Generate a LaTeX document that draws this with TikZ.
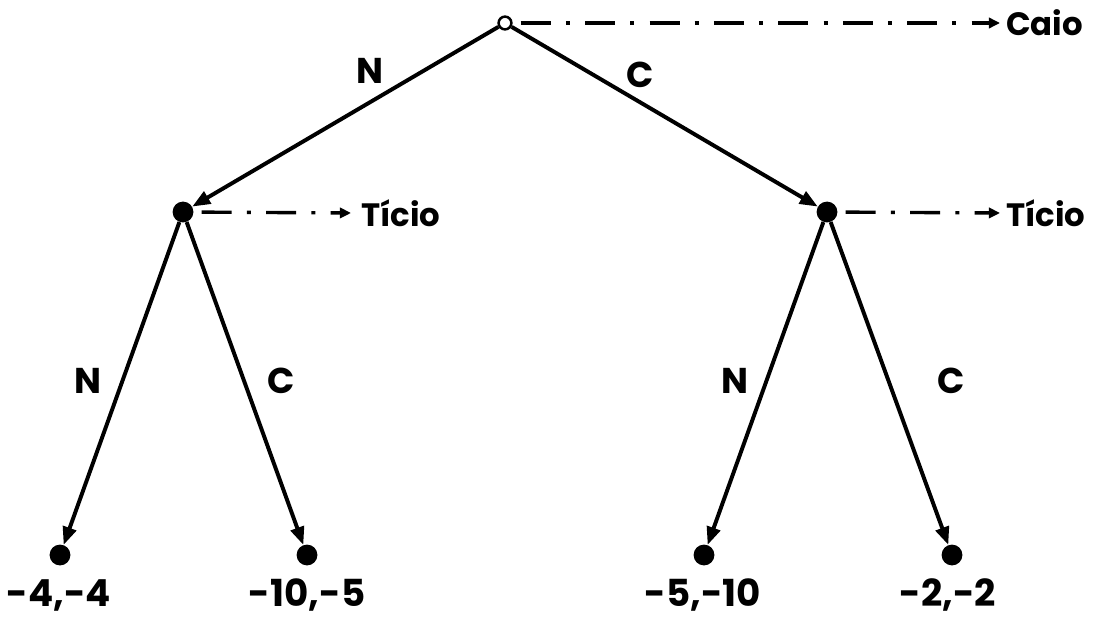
\documentclass[tikz,border=0pt]{standalone}
\usepackage{fontspec}
\setmainfont{Poppins}
\usetikzlibrary{arrows.meta}

\begin{document}
\begin{tikzpicture}[
    x=0.025cm, y=0.025cm,
    font=\bfseries,
    start/.style={circle, draw, fill=white, line width=1.8pt, inner sep=0pt, minimum size=0.32cm},
    choice/.style={circle, fill=black, inner sep=0pt, minimum size=0.52cm},
    move/.style={-{Triangle[length=0.45cm, width=0.34cm]}, line width=2.8pt},
    turn/.style={-{Triangle[length=0.28cm, width=0.26cm]}, line width=2.4pt,
        dash pattern=on 0.75cm off 0.38cm on 0.1cm off 0.38cm, shorten <=0.2cm},
    player/.style={anchor=west, inner sep=0pt, font=\bfseries\fontsize{23}{24}\selectfont},
    act/.style={inner sep=0pt, font=\bfseries\fontsize{25.5}{26}\selectfont},
    payoff/.style={inner sep=0pt, font=\bfseries\fontsize{26.5}{27}\selectfont}
]
    \useasboundingbox (0,0) rectangle (1093,621);

    % decision nodes
    \node[start]  (root) at (505,598) {};
    \node[choice] (nl)   at (183,409) {};
    \node[choice] (nr)   at (827,409) {};

    % terminal nodes
    \node[choice] (l1) at (60,66) {};
    \node[choice] (l2) at (307,66) {};
    \node[choice] (l3) at (704,66) {};
    \node[choice] (l4) at (952,66) {};

    % payoffs
    \node[payoff] (p1) at (59,26)  {-4,-4};
    \node[payoff] (p2) at (307,26) {-10,-5};
    \node[payoff] (p3) at (703,26) {-5,-10};
    \node[payoff] (p4) at (948,26) {-2,-2};

    % players
    \node[player] (caio)  at (1006,598) {Caio};
    \node[player] (ticl)  at (361,408)  {Tício};
    \node[player] (ticr)  at (1006,408) {Tício};

    \draw[turn] (root) -- ([xshift=-0.15cm]caio.west);
    \draw[turn] (nl) -- ([xshift=-0.25cm]ticl.west);
    \draw[turn] (nr) -- ([xshift=-0.15cm]ticr.west);

    % moves
    \draw[move] (root) -- (nl);
    \draw[move] (root) -- (nr);
    \draw[move] (nl) -- (l1);
    \draw[move] (nl) -- (l2);
    \draw[move] (nr) -- (l3);
    \draw[move] (nr) -- (l4);

    \node[act] at (370,550) {N};
    \node[act] at (640,546) {C};
    \node[act] at (88,240)  {N};
    \node[act] at (281,240) {C};
    \node[act] at (735,240) {N};
    \node[act] at (951,240) {C};
\end{tikzpicture}
\end{document}
